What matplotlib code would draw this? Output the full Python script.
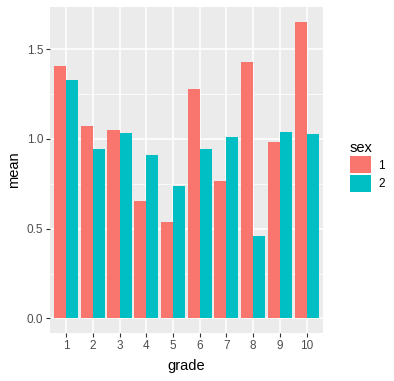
import numpy as np
import matplotlib
matplotlib.use('Agg')
import matplotlib.pyplot as plt
from matplotlib.patches import Patch

plt.rcParams['font.family'] = ['Liberation Sans', 'DejaVu Sans']

# mean by grade and sex
grades = [1, 2, 3, 4, 5, 6, 7, 8, 9, 10]
sex1_mean = [1.407, 1.074, 1.052, 0.652, 0.535, 1.279, 0.768, 1.429, 0.980, 1.652]
sex2_mean = [1.329, 0.946, 1.035, 0.913, 0.735, 0.946, 1.013, 0.457, 1.040, 1.030]
sex_labels = ['1', '2']
colors = ['#F8766D', '#00BFC4']

W, H = 394, 381
fig = plt.figure(figsize=(W / 100, H / 100), dpi=100)
ax = fig.add_axes([50 / W, (H - 333.3) / H, (322.7 - 50) / W, (333.3 - 7) / H])
ax.set_facecolor('#EBEBEB')

x = np.arange(len(grades))
bw = 0.45
ax.bar(x - bw / 2, sex1_mean, width=bw, color=colors[0], zorder=3)
ax.bar(x + bw / 2, sex2_mean, width=bw, color=colors[1], zorder=3)

ymax = max(max(sex1_mean), max(sex2_mean))
ax.set_ylim(-0.05 * ymax, 1.05 * ymax)
ax.set_xlim(-0.6, len(grades) - 0.4)

ax.set_xticks(x)
ax.set_xticklabels([str(g) for g in grades])
ax.set_yticks([0.0, 0.5, 1.0, 1.5])
ax.set_yticklabels(['0.0', '0.5', '1.0', '1.5'])
ax.set_yticks([0.25, 0.75, 1.25], minor=True)

ax.grid(which='major', color='white', linewidth=1.1, zorder=0)
ax.grid(which='minor', axis='y', color='white', linewidth=0.55, zorder=0)
ax.set_axisbelow(True)
for s in ax.spines.values():
    s.set_visible(False)

ax.tick_params(which='major', length=3, width=0.8, color='#333333',
               labelcolor='#4D4D4D', labelsize=8.5, pad=2)
ax.tick_params(which='minor', length=0)

ax.set_xlabel('grade', fontsize=10.5, color='black', labelpad=5)
ax.set_ylabel('mean', fontsize=10.5, color='black', labelpad=4)

handles = [Patch(facecolor=c, edgecolor='none') for c in colors]
leg = fig.legend(handles, sex_labels, title='sex', loc='upper left',
                 bbox_to_anchor=(345 / W, 1 - 136 / H), frameon=False,
                 fontsize=8.5, title_fontsize=10.5, handlelength=1.8,
                 handleheight=1.8, labelspacing=0.15, handletextpad=0.6,
                 borderaxespad=0)
leg._legend_box.align = 'left'

fig.savefig('out.png', dpi=100)
